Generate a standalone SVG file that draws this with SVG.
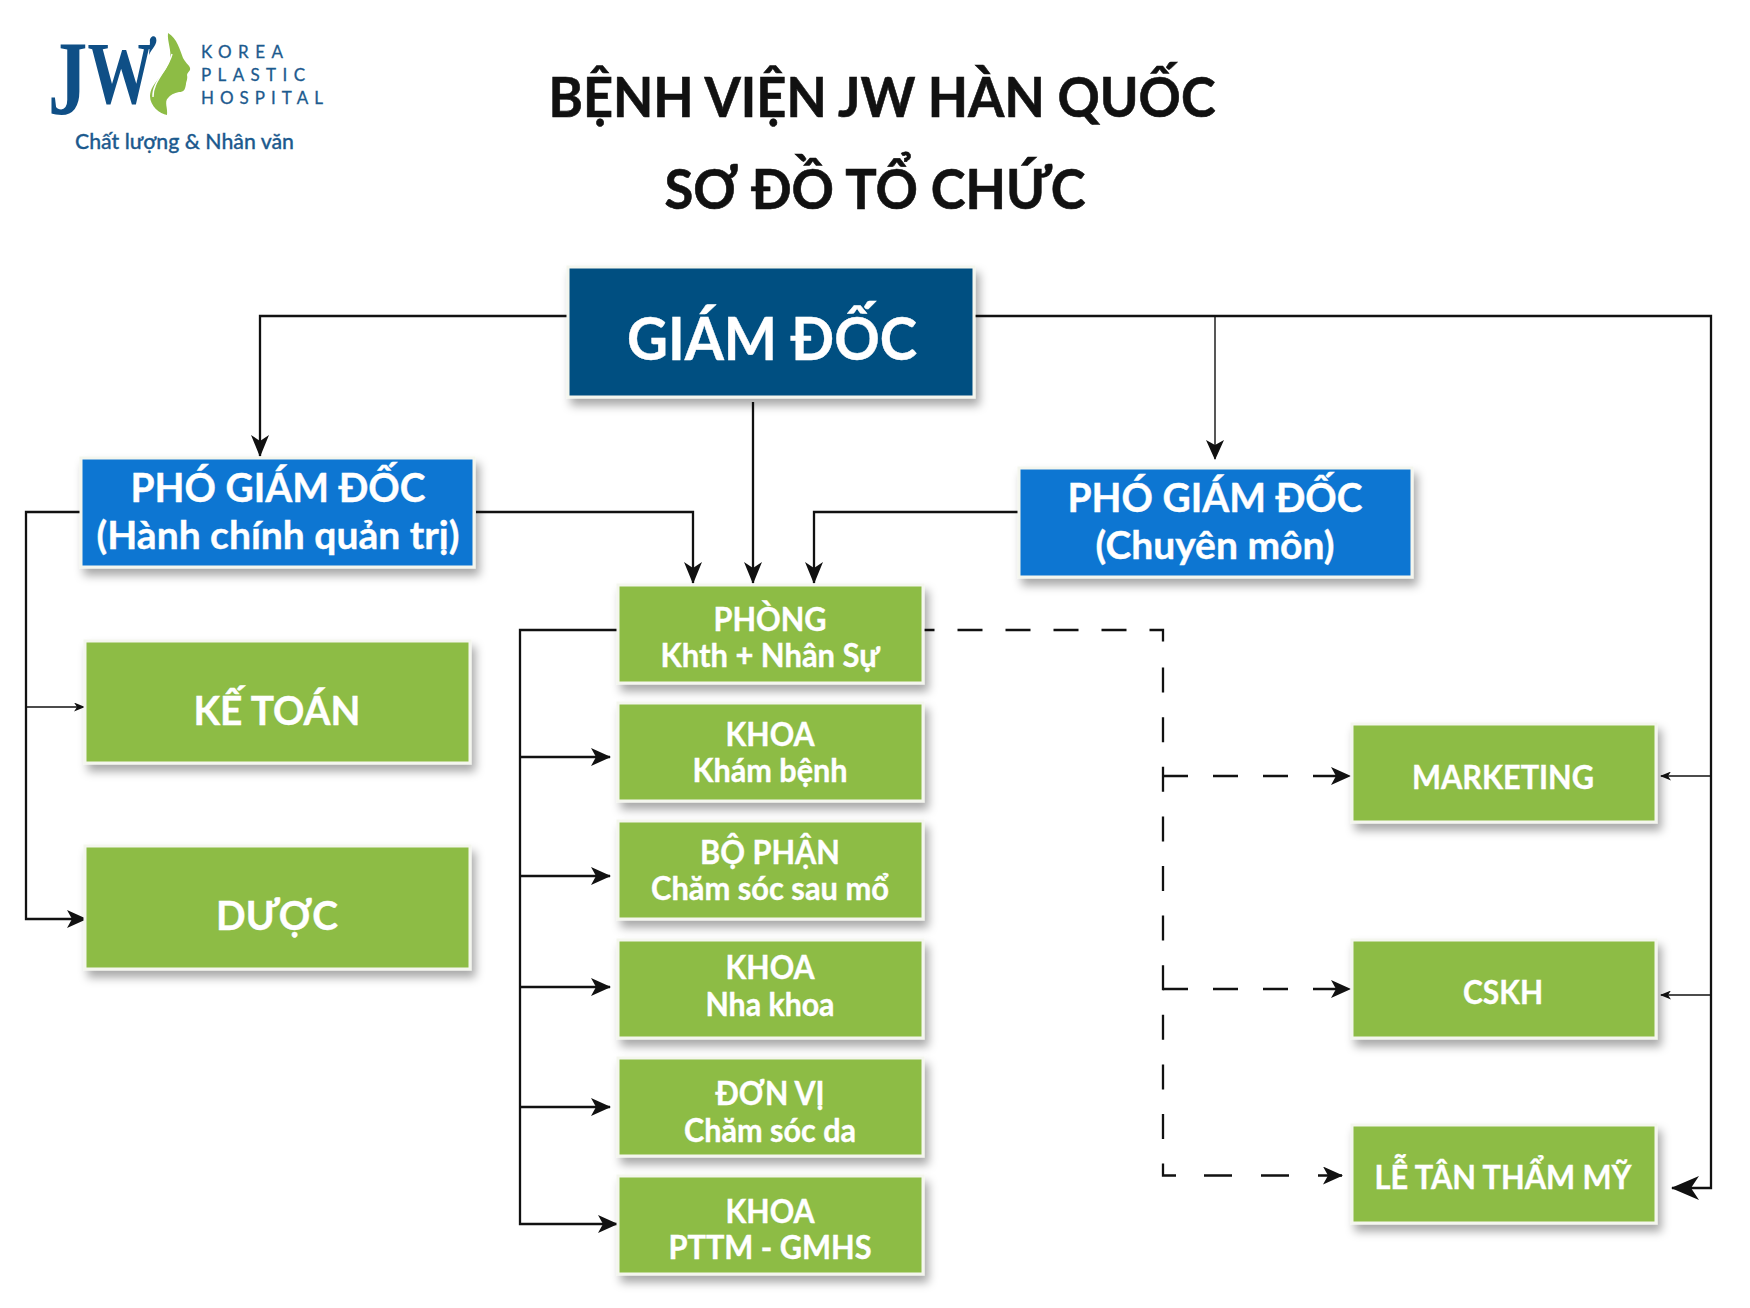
<svg xmlns="http://www.w3.org/2000/svg" width="1750" height="1308" viewBox="0 0 1750 1308">
<defs>
<style>
.t{font-family:"Lato","Liberation Sans",sans-serif;font-weight:700;fill:#fff;text-anchor:middle;stroke:#fff;stroke-width:.4}
.title{font-family:"Lato","Liberation Sans",sans-serif;font-weight:700;fill:#111;text-anchor:middle;font-size:55px;stroke:#111;stroke-width:.6}
.box{stroke:#f4f6ee;stroke-width:3;filter:url(#sh)}
.navy{fill:#034f81}.blue{fill:#1176d2}.green{fill:#8dbc45}
.c{fill:none;stroke:#111;stroke-width:2.3}
.thin{fill:none;stroke:#111;stroke-width:1.4}
.d{fill:none;stroke:#111;stroke-width:2.3}
.logo{font-family:"Lato","Liberation Sans",sans-serif;fill:#1c5a8e;stroke:#1c5a8e;stroke-width:.3}
.jw{font-family:"Liberation Serif",serif;font-weight:700;fill:#0f4f86}
</style>
<filter id="sh" x="-10%" y="-10%" width="125%" height="135%">
<feDropShadow dx="4" dy="7" stdDeviation="5" flood-color="#000" flood-opacity=".34"/>
</filter>
<marker id="big" markerWidth="20" markerHeight="18" refX="19" refY="9" orient="auto" markerUnits="userSpaceOnUse"><path d="M0 0L20 9L0 18L5 9Z" fill="#111"/></marker>
<marker id="small" markerWidth="11" markerHeight="9" refX="10" refY="4.5" orient="auto" markerUnits="userSpaceOnUse"><path d="M0 0L11 4.5L0 9L3 4.5Z" fill="#111"/></marker>
<marker id="v" markerWidth="22" markerHeight="18" refX="21" refY="9" orient="auto" markerUnits="userSpaceOnUse"><path d="M0 0L22 9L0 18L6 9Z" fill="#111"/></marker>
<marker id="huge" markerWidth="28" markerHeight="24" refX="27" refY="12" orient="auto" markerUnits="userSpaceOnUse"><path d="M0 0L28 12L0 24L8 12Z" fill="#111"/></marker>
</defs>
<rect width="1750" height="1308" fill="#fff"/>

<g id="logo">
<text class="jw" transform="translate(48 0) scale(.75 1)"><tspan font-size="105" y="114">J</tspan><tspan font-size="88" y="103">W</tspan></text>
<path d="M150 42C149 37 154 34 156 38C158 44 152 48 149 55Z" fill="#0f4f86"/>
<path d="M168 33C177 38 180 50 183 58C186 64 191 66 190 70C189 72 187 73 187 75C188 79 186 82 186 84C185 90 184 92 179 92C174 93 170 95 168 98C164 102 168 108 167 115C160 114 150 106 150 96C151 82 165 76 170 60C172 50 167 42 168 33Z" fill="#8dbc45"/>
<path d="M172 54C168 70 152 82 153 97" fill="none" stroke="#fff" stroke-width="1.4"/>
<text class="logo" x="201" y="58" font-size="17" textLength="82" lengthAdjust="spacing">KOREA</text>
<text class="logo" x="201" y="81" font-size="17" textLength="104" lengthAdjust="spacing">PLASTIC</text>
<text class="logo" x="201" y="104" font-size="17" textLength="122" lengthAdjust="spacing">HOSPITAL</text>
<text class="logo" x="75" y="149" font-size="21" font-weight="500" textLength="219" lengthAdjust="spacingAndGlyphs">Chất lượng &amp; Nhân văn</text>
</g>

<g id="title">
<text class="title" x="882" y="117" textLength="667" lengthAdjust="spacingAndGlyphs">BỆNH VIỆN JW HÀN QUỐC</text>
<text class="title" x="875" y="209" textLength="421" lengthAdjust="spacingAndGlyphs">SƠ ĐỒ TỔ CHỨC</text>
</g>

<g id="connectors">
<path class="c" d="M567 316H260V456" marker-end="url(#v)"/>
<path class="c" d="M753 402V583" marker-end="url(#v)"/>
<path class="c" d="M476 512H693V583" marker-end="url(#v)"/>
<path class="c" d="M1018 512H814V583" marker-end="url(#v)"/>
<path class="c" d="M975 316H1711V1188H1672" marker-end="url(#huge)"/>
<path class="thin" d="M1215 316V459" marker-end="url(#big)"/>
<path class="c" d="M80 512H26V919H86" marker-end="url(#big)"/>
<path class="thin" d="M26 707H84" marker-end="url(#small)"/>
<path class="c" d="M618 630H520V1224H617" marker-end="url(#big)"/>
<path class="c" d="M520 757H610" marker-end="url(#big)"/>
<path class="c" d="M520 876H610" marker-end="url(#big)"/>
<path class="c" d="M520 987H610" marker-end="url(#big)"/>
<path class="c" d="M520 1107H610" marker-end="url(#big)"/>
<path class="d" stroke-dasharray="25 23" stroke-dashoffset="12.5" d="M922 630H1163V642"/>
<path class="d" stroke-dasharray="25 24.6" d="M1163 667.6V1175.5H1176"/>
<path class="d" stroke-dasharray="28 29" d="M1204 1175.5H1342" marker-end="url(#big)"/>
<path class="d" stroke-dasharray="25 25" d="M1163 776H1350" marker-end="url(#big)"/>
<path class="d" stroke-dasharray="25 25" d="M1163 989H1350" marker-end="url(#big)"/>
<path class="thin" d="M1711 776H1661" marker-end="url(#small)"/>
<path class="thin" d="M1711 995H1661" marker-end="url(#small)"/>
</g>

<g id="giam-doc"><rect class="box navy" x="568" y="267" width="406" height="130"/><text class="t" x="772" y="360" font-size="60" textLength="290" lengthAdjust="spacingAndGlyphs">GIÁM ĐỐC</text></g>
<g id="pgd-hc"><rect class="box blue" x="81" y="458" width="393" height="109"/><text class="t" x="278" y="502" font-size="41" textLength="295" lengthAdjust="spacingAndGlyphs">PHÓ GIÁM ĐỐC</text><text class="t" x="278" y="549" font-size="39">(Hành chính quản trị)</text></g>
<g id="pgd-cm"><rect class="box blue" x="1019" y="468" width="393" height="109"/><text class="t" x="1215" y="512" font-size="41" textLength="295" lengthAdjust="spacingAndGlyphs">PHÓ GIÁM ĐỐC</text><text class="t" x="1215" y="559" font-size="39">(Chuyên môn)</text></g>
<g id="ke-toan"><rect class="box green" x="85" y="641" width="385" height="122"/><text class="t" x="277" y="725" font-size="41" textLength="167" lengthAdjust="spacingAndGlyphs">KẾ TOÁN</text></g>
<g id="duoc"><rect class="box green" x="85" y="846" width="385" height="123"/><text class="t" x="277" y="930" font-size="41" textLength="122" lengthAdjust="spacingAndGlyphs">DƯỢC</text></g>
<g id="phong"><rect class="box green" x="618" y="585" width="305" height="98"/><text class="t" x="770" y="631" font-size="32" textLength="113" lengthAdjust="spacingAndGlyphs">PHÒNG</text><text class="t" x="770" y="667" font-size="32" textLength="219" lengthAdjust="spacingAndGlyphs">Khth + Nhân Sự</text></g>
<g id="kham-benh"><rect class="box green" x="618" y="703" width="305" height="98"/><text class="t" x="770" y="746" font-size="32" textLength="89" lengthAdjust="spacingAndGlyphs">KHOA</text><text class="t" x="770" y="782" font-size="32" textLength="155" lengthAdjust="spacingAndGlyphs">Khám bệnh</text></g>
<g id="cham-soc-sau-mo"><rect class="box green" x="618" y="821" width="305" height="98"/><text class="t" x="770" y="864" font-size="32" textLength="140" lengthAdjust="spacingAndGlyphs">BỘ PHẬN</text><text class="t" x="770" y="900" font-size="32" textLength="238" lengthAdjust="spacingAndGlyphs">Chăm sóc sau mổ</text></g>
<g id="nha-khoa"><rect class="box green" x="618" y="940" width="305" height="98"/><text class="t" x="770" y="979" font-size="32" textLength="89" lengthAdjust="spacingAndGlyphs">KHOA</text><text class="t" x="770" y="1016" font-size="32" textLength="129" lengthAdjust="spacingAndGlyphs">Nha khoa</text></g>
<g id="cham-soc-da"><rect class="box green" x="618" y="1058" width="305" height="98"/><text class="t" x="770" y="1105" font-size="32" textLength="109" lengthAdjust="spacingAndGlyphs">ĐƠN VỊ</text><text class="t" x="770" y="1142" font-size="32" textLength="172" lengthAdjust="spacingAndGlyphs">Chăm sóc da</text></g>
<g id="pttm"><rect class="box green" x="618" y="1176" width="305" height="98"/><text class="t" x="770" y="1223" font-size="32" textLength="89" lengthAdjust="spacingAndGlyphs">KHOA</text><text class="t" x="770" y="1259" font-size="32" textLength="203" lengthAdjust="spacingAndGlyphs">PTTM - GMHS</text></g>
<g id="marketing"><rect class="box green" x="1352" y="724" width="304" height="98"/><text class="t" x="1503" y="789" font-size="33" textLength="182" lengthAdjust="spacingAndGlyphs">MARKETING</text></g>
<g id="cskh"><rect class="box green" x="1352" y="940" width="304" height="98"/><text class="t" x="1503" y="1004" font-size="33" textLength="80" lengthAdjust="spacingAndGlyphs">CSKH</text></g>
<g id="le-tan"><rect class="box green" x="1352" y="1125" width="304" height="98"/><text class="t" x="1503" y="1189" font-size="33" textLength="257" lengthAdjust="spacingAndGlyphs">LỄ TÂN THẨM MỸ</text></g>
</svg>
